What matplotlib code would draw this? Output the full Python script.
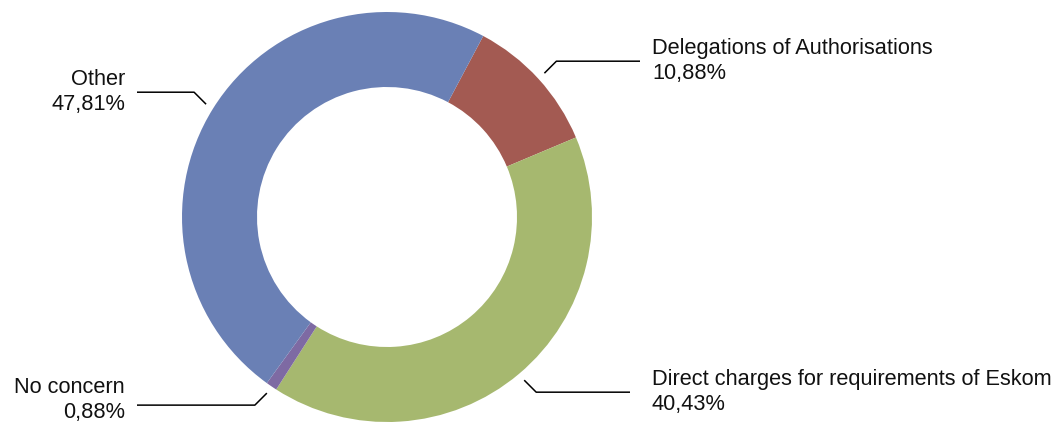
import numpy as np
import matplotlib.pyplot as plt

plt.rcParams['font.family'] = ['Liberation Sans', 'DejaVu Sans']

# slice data, clockwise from the top-right
labels = ['Delegations of Authorisations', 'Direct charges for requirements of Eskom',
          'No concern', 'Other']
values = [10.88, 40.43, 0.88, 47.81]
pct_text = ['10,88%', '40,43%', '0,88%', '47,81%']
colors = ['#A35A52', '#A6B86F', '#7E6AA3', '#6A80B5']

fig = plt.figure(figsize=(10.6, 4.23), dpi=100)
ax = fig.add_axes([0, 0, 1, 1])

cx, cy, R = 387, 206, 205
wedges, _ = ax.pie(values, colors=colors, startangle=62, counterclock=False,
                   radius=R, center=(cx, cy), frame=True,
                   wedgeprops=dict(width=75, linewidth=0))
ax.set_xlim(0, 1060)
ax.set_ylim(0, 423)
ax.set_aspect('equal')
ax.axis('off')

# label layout: text x, end of the horizontal leader, text y nudge
layout = [(652, 640, 0), (652, 630, 0), (125, 137, 5), (125, 137, 0)]

for w, lab, pct, (tx, hx, dy) in zip(wedges, labels, pct_text, layout):
    mid = np.deg2rad((w.theta1 + w.theta2) / 2)
    x0 = cx + 1.04 * R * np.cos(mid)
    y0 = cy + 1.04 * R * np.sin(mid)
    sx = np.sign(np.cos(mid))
    sy = np.sign(np.sin(mid))
    x1 = x0 + sx * 12
    y1 = y0 + sy * 12
    ax.plot([x0, x1, hx], [y0, y1, y1], color='black', lw=1.1,
            solid_capstyle='butt')
    ha = 'left' if sx > 0 else 'right'
    ax.text(tx, y1 + dy, lab + '\n' + pct, ha=ha, va='center', multialignment=ha,
            fontsize=15.7, linespacing=1.22, color='#111111')

fig.savefig('out.png', dpi=100)
